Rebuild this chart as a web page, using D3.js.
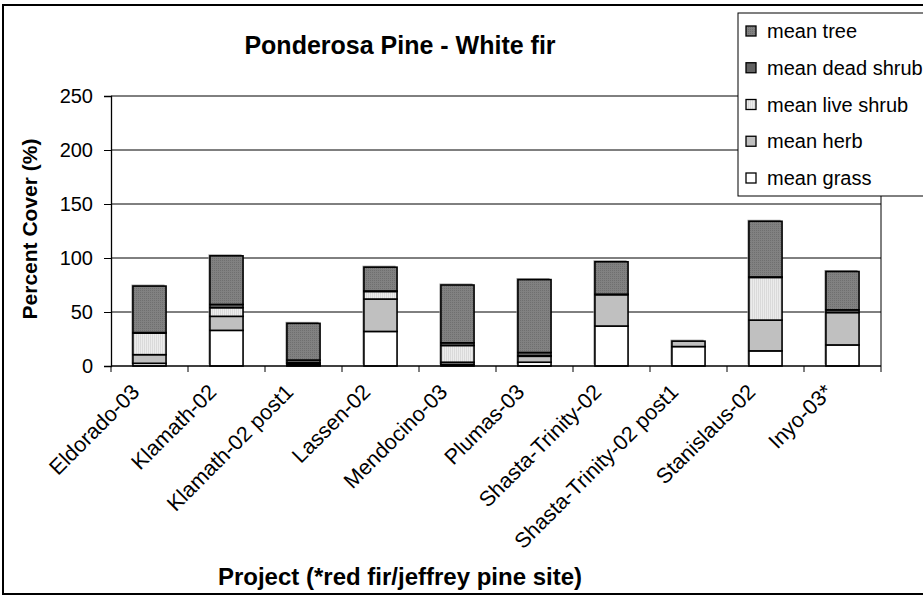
<!DOCTYPE html>
<html>
<head>
<meta charset="utf-8">
<script src="https://cdn.jsdelivr.net/npm/d3@7"></script>
<style>
  html, body { margin: 0; padding: 0; background: #fff; }
  svg { display: block; font-family: "Liberation Sans", Arial, sans-serif; }
</style>
</head>
<body>
<svg id="chart" width="923" height="596"></svg>
<script>
// Mean percent cover by project, stacked from grass (bottom) to tree (top)
const projects = ["Eldorado-03", "Klamath-02", "Klamath-02 post1", "Lassen-02", "Mendocino-03",
  "Plumas-03", "Shasta-Trinity-02", "Shasta-Trinity-02 post1", "Stanislaus-02", "Inyo-03*"];
const meanGrass     = [2.5, 33, 0.5, 32, 1.5, 3.5, 37, 18, 14, 19.5];
const meanHerb      = [8, 13, 1.5, 30, 2, 5.5, 29, 5, 28.5, 30];
const meanLiveShrub = [20, 8, 1, 7, 15.5, 0.5, 0.5, 0, 39.5, 0];
const meanDeadShrub = [0.5, 3, 2.5, 0.5, 2.5, 3, 0, 0, 0.5, 2.5];
const meanTree      = [43, 45, 34, 22, 53.5, 67.5, 30, 0, 51.5, 35.5];
const yTicks = [0, 50, 100, 150, 200, 250];

const seriesNames = ["mean grass", "mean herb", "mean live shrub", "mean dead shrub", "mean tree"];
const seriesValues = [meanGrass, meanHerb, meanLiveShrub, meanDeadShrub, meanTree];

const svg = d3.select("#chart");
const defs = svg.append("defs");

// Fine textures used by the fills
const treePat = defs.append("pattern").attr("id", "treeFill")
  .attr("width", 2).attr("height", 2).attr("patternUnits", "userSpaceOnUse");
treePat.append("rect").attr("width", 2).attr("height", 2).attr("fill", "#818181");
treePat.append("rect").attr("width", 1).attr("height", 1).attr("fill", "#6f6f6f");

const liveShrubPat = defs.append("pattern").attr("id", "liveShrubFill")
  .attr("width", 2).attr("height", 2).attr("patternUnits", "userSpaceOnUse");
liveShrubPat.append("rect").attr("width", 2).attr("height", 2).attr("fill", "#ececec");
liveShrubPat.append("rect").attr("width", 1).attr("height", 2).attr("fill", "#dadada");

const fills = {
  "mean grass": "#ffffff",
  "mean herb": "#c0c0c0",
  "mean live shrub": "url(#liveShrubFill)",
  "mean dead shrub": "#626262",
  "mean tree": "url(#treeFill)"
};

// Outer chart frame
svg.append("rect").attr("x", 3).attr("y", 5).attr("width", 1000).attr("height", 589)
  .attr("fill", "#fff").attr("stroke", "#000").attr("stroke-width", 2);

const plot = { left: 111, right: 881, top: 96, bottom: 366 };

const x = d3.scaleBand().domain(projects).range([plot.left, plot.right])
  .paddingInner(0.57).paddingOuter(0.285);
const xStep = x.step();
const y = d3.scaleLinear().domain([0, 250]).range([plot.bottom, plot.top]);

// Horizontal gridlines
svg.append("g").selectAll("line").data(yTicks.filter(t => t > 0)).join("line")
  .attr("x1", plot.left).attr("x2", plot.right)
  .attr("y1", d => y(d)).attr("y2", d => y(d))
  .attr("stroke", "#000").attr("stroke-width", 1);

// Right edge of the plot area
svg.append("line").attr("x1", plot.right).attr("x2", plot.right)
  .attr("y1", plot.top).attr("y2", plot.bottom).attr("stroke", "#000").attr("stroke-width", 1);

// Stacked bars
const table = projects.map((p, i) => {
  const row = { project: p };
  seriesNames.forEach((s, k) => { row[s] = seriesValues[k][i]; });
  return row;
});
const stacked = d3.stack().keys(seriesNames)(table);

// Soft shadow behind each stacked column
const totals = table.map(r => ({ project: r.project, total: d3.sum(seriesNames, s => r[s]) }));
svg.append("g").selectAll("rect").data(totals).join("rect")
  .attr("x", d => x(d.project) - 1.5)
  .attr("y", d => y(d.total) - 1.5)
  .attr("width", x.bandwidth())
  .attr("height", d => y(0) - y(d.total))
  .attr("fill", "#9a9a9a");

svg.append("g").selectAll("g").data(stacked).join("g")
  .attr("fill", d => fills[d.key])
  .selectAll("rect").data(d => d.filter(v => v[1] - v[0] > 0)).join("rect")
  .attr("x", d => x(d.data.project))
  .attr("width", x.bandwidth())
  .attr("y", d => y(d[1]))
  .attr("height", d => y(d[0]) - y(d[1]))
  .attr("stroke", "#000").attr("stroke-width", 1.6);

// Y axis
const yAxis = d3.axisLeft(y).tickValues(yTicks).tickSize(7).tickPadding(11);
const gy = svg.append("g").attr("transform", `translate(${plot.left},0)`).call(yAxis);
gy.select(".domain").attr("stroke", "#000").attr("stroke-width", 1.3);
gy.selectAll(".tick line").attr("stroke", "#000");
gy.selectAll(".tick text").attr("font-size", 20).attr("fill", "#000")
  .style("font-family", "'Liberation Sans', Arial, sans-serif");

// X axis with ticks at category boundaries
const boundaries = d3.range(projects.length + 1).map(i => plot.left + i * xStep);
svg.append("line").attr("x1", plot.left).attr("x2", plot.right)
  .attr("y1", plot.bottom).attr("y2", plot.bottom).attr("stroke", "#000").attr("stroke-width", 1.3);
svg.append("g").selectAll("line").data(boundaries).join("line")
  .attr("x1", d => d).attr("x2", d => d)
  .attr("y1", plot.bottom).attr("y2", plot.bottom + 6)
  .attr("stroke", "#000");

svg.append("g").selectAll("text").data(projects).join("text")
  .attr("transform", d => `translate(${x(d) + x.bandwidth() / 2 - 14},${plot.bottom + 22}) rotate(-45)`)
  .attr("text-anchor", "end")
  .attr("dy", "0.35em")
  .attr("font-size", 21.5)
  .text(d => d);

// Axis titles and chart title
svg.append("text").attr("x", 400).attr("y", 54).attr("text-anchor", "middle")
  .attr("font-size", 25).attr("font-weight", "bold").text("Ponderosa Pine - White fir");

svg.append("text").attr("transform", `translate(37,229) rotate(-90)`).attr("text-anchor", "middle")
  .attr("font-size", 21).attr("font-weight", "bold").text("Percent Cover (%)");

svg.append("text").attr("x", 400).attr("y", 585).attr("text-anchor", "middle")
  .attr("font-size", 24).attr("font-weight", "bold").text("Project (*red fir/jeffrey pine site)");

// Legend, listed top to bottom in stack order reversed
const legend = svg.append("g");
legend.append("rect").attr("x", 738).attr("y", 13).attr("width", 300).attr("height", 183)
  .attr("fill", "#fff").attr("stroke", "#000").attr("stroke-width", 1);
const legendItems = seriesNames.slice().reverse();
const ly = d3.scalePoint().domain(legendItems).range([31, 178]);
const li = legend.selectAll("g.item").data(legendItems).join("g").attr("class", "item")
  .attr("transform", d => `translate(746,${ly(d)})`);
li.append("rect").attr("x", 0).attr("y", -5).attr("width", 10).attr("height", 10)
  .attr("fill", d => fills[d]).attr("stroke", "#000").attr("stroke-width", 1.3);
li.append("text").attr("x", 21).attr("dy", "0.35em").attr("font-size", 20).text(d => d);
</script>
</body>
</html>
